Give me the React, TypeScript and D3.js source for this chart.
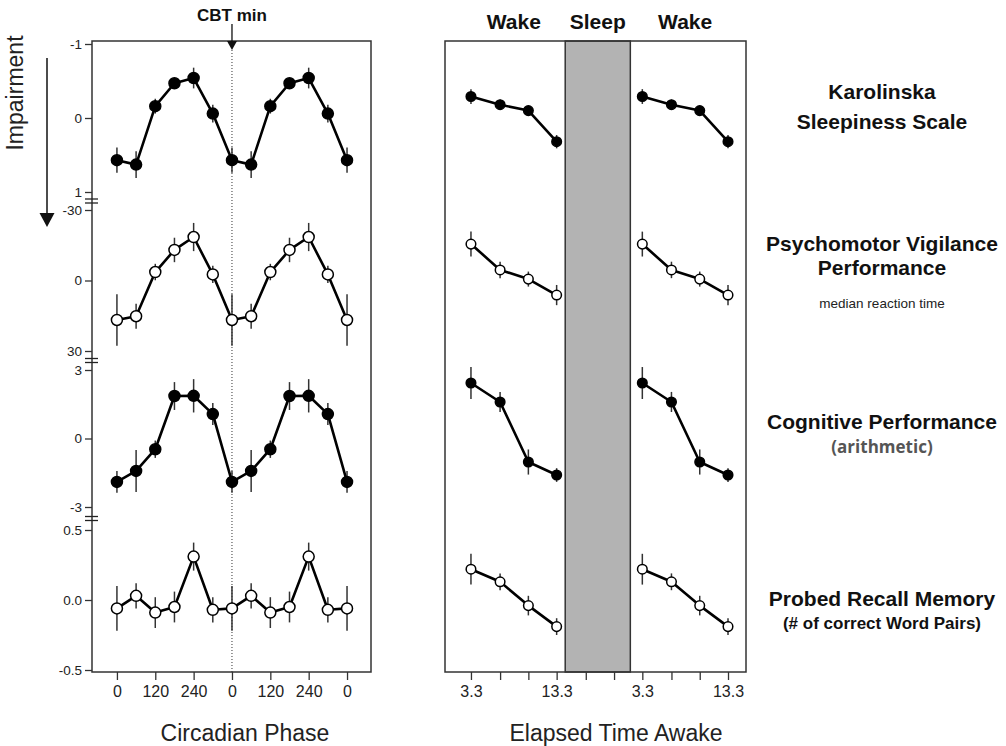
import * as d3 from 'd3';
import { useRef, useEffect } from 'react';

// RENDERING SETUP
const W = 1006;
const H = 746;
const FONT = '"Liberation Sans", Arial, sans-serif';
const FRAME = { TOP: 41, BOTTOM: 672 };
const LEFT_PANEL = { X0: 92, X1: 371 };
const RIGHT_PANEL = { X0: 445, X1: 746 };
const INK = '#222';

// circadian phase (deg), two cycles
const PHASE = [0, 60, 120, 180, 240, 300, 360, 420, 480, 540, 600, 660, 720];
const PHASE_TICKS = [0, 120, 240, 360, 480, 600, 720];
const PHASE_DOMAIN = [-78, 795];
const CBT_MIN = 360;

// elapsed time awake (h); second wake episode shifted by 20 h
const WAKE_HOURS = [3.3, 6.7, 10, 13.3];
const WAKE_OFFSETS = [0, 20];
const ELAPSED_TICKS = [3.3, 6.7, 10, 13.3, 16.7, 20, 23.3, 26.7, 30, 33.3];
const ELAPSED_LABELS = ['3.3', '', '', '13.3', '', '', '3.3', '', '', '13.3'];
const ELAPSED_DOMAIN = [0.27, 35.4];
const SLEEP_BAND = [14.3, 21.9];
const HEADERS = [
  { label: 'Wake', t: 8.3 },
  { label: 'Sleep', t: 18.1 },
  { label: 'Wake', t: 28.3 },
];

// Karolinska Sleepiness Scale
const KSS_CIRC = [0.57, 0.63, -0.16, -0.47, -0.54, -0.06, 0.57, 0.63, -0.16, -0.47, -0.54, -0.06, 0.57];
const KSS_CIRC_ERR = [0.17, 0.18, 0.1, 0.07, 0.14, 0.12, 0.17, 0.18, 0.1, 0.07, 0.14, 0.12, 0.17];
const KSS_WAKE = [-0.29, -0.18, -0.1, 0.32];
const KSS_WAKE_ERR = [0.1, 0.07, 0.05, 0.09];

// Psychomotor vigilance (median RT)
const PVT_CIRC = [16.8, 15.2, -3.6, -13, -18.5, -2.6, 16.8, 15.2, -3.6, -13, -18.5, -2.6, 16.8];
const PVT_CIRC_ERR = [11, 5.3, 3.5, 5.2, 6, 3.7, 11, 5.3, 3.5, 5.2, 6, 3.7, 11];
const PVT_WAKE = [-15.5, -4.5, -0.6, 6.2];
const PVT_WAKE_ERR = [5.3, 3.5, 3.2, 4.3];

// Cognitive performance (arithmetic)
const COG_CIRC = [-1.9, -1.42, -0.47, 1.86, 1.87, 1.07, -1.9, -1.42, -0.47, 1.86, 1.87, 1.07, -1.9];
const COG_CIRC_ERR = [0.48, 0.92, 0.38, 0.61, 0.73, 0.48, 0.48, 0.92, 0.38, 0.61, 0.73, 0.48, 0.48];
const COG_WAKE = [2.43, 1.6, -1.03, -1.6];
const COG_WAKE_ERR = [0.7, 0.44, 0.55, 0.3];

// Probed recall memory
const REC_CIRC = [-0.06, 0.03, -0.09, -0.05, 0.31, -0.07, -0.06, 0.03, -0.09, -0.05, 0.31, -0.07, -0.06];
const REC_CIRC_ERR = [0.16, 0.09, 0.11, 0.11, 0.1, 0.09, 0.16, 0.09, 0.11, 0.11, 0.1, 0.09, 0.16];
const REC_WAKE = [0.22, 0.13, -0.04, -0.19];
const REC_WAKE_ERR = [0.11, 0.06, 0.07, 0.06];

const ROWS = [
  {
    domain: [-1, 1], range: [44, 192], ticks: [-1, 0, 1], fmt: (d: number) => String(d),
    circ: KSS_CIRC, circErr: KSS_CIRC_ERR, wake: KSS_WAKE, wakeErr: KSS_WAKE_ERR, filled: true,
    title: ['Karolinska', 'Sleepiness Scale'], titleY: [92, 122], sub: null,
  },
  {
    domain: [-30, 30], range: [210, 351], ticks: [-30, 0, 30], fmt: (d: number) => String(d),
    circ: PVT_CIRC, circErr: PVT_CIRC_ERR, wake: PVT_WAKE, wakeErr: PVT_WAKE_ERR, filled: false,
    title: ['Psychomotor Vigilance', 'Performance'], titleY: [244, 268],
    sub: { text: 'median reaction time', y: 303, size: 13.5, weight: 'normal', font: FONT, color: INK },
  },
  {
    domain: [3, -3], range: [370, 507], ticks: [3, 0, -3], fmt: (d: number) => String(d),
    circ: COG_CIRC, circErr: COG_CIRC_ERR, wake: COG_WAKE, wakeErr: COG_WAKE_ERR, filled: true,
    title: ['Cognitive Performance'], titleY: [422],
    sub: { text: '(arithmetic)', y: 447, size: 17, weight: 'bold', font: '"Open Sans", sans-serif', color: '#555' },
  },
  {
    domain: [0.5, -0.5], range: [530, 670], ticks: [0.5, 0, -0.5], fmt: (d: number) => d.toFixed(1),
    circ: REC_CIRC, circErr: REC_CIRC_ERR, wake: REC_WAKE, wakeErr: REC_WAKE_ERR, filled: false,
    title: ['Probed Recall Memory'], titleY: [599],
    sub: { text: '(# of correct Word Pairs)', y: 623, size: 17, weight: 'bold', font: FONT, color: '#111' },
  },
];

const drawSeries = (g, xs: number[], ys: number[], errs: number[], x, y, filled: boolean, r: number) => {
  const pts = xs.map((xv, i) => ({ x: xv, y: ys[i], e: errs[i] }));
  g.append('g')
    .selectAll('line')
    .data(pts)
    .join('line')
    .attr('x1', (d) => x(d.x))
    .attr('x2', (d) => x(d.x))
    .attr('y1', (d) => y(d.y - d.e))
    .attr('y2', (d) => y(d.y + d.e))
    .attr('stroke', '#333')
    .attr('stroke-width', 1.5);
  g.append('path')
    .datum(pts)
    .attr('fill', 'none')
    .attr('stroke', '#000')
    .attr('stroke-width', 2.6)
    .attr('stroke-linejoin', 'round')
    .attr('d', d3.line<any>().x((d) => x(d.x)).y((d) => y(d.y)));
  g.append('g')
    .selectAll('circle')
    .data(pts)
    .join('circle')
    .attr('cx', (d) => x(d.x))
    .attr('cy', (d) => y(d.y))
    .attr('r', r)
    .attr('fill', filled ? '#000' : '#fff')
    .attr('stroke', '#000')
    .attr('stroke-width', 1.5);
};

const styleAxis = (ax, size: number) => {
  ax.select('.domain').remove();
  ax.selectAll('.tick line').attr('stroke', '#333').attr('stroke-width', 1.3);
  ax.selectAll('.tick text').attr('fill', INK).style('font-family', FONT).style('font-size', `${size}px`);
};

const App = () => {
  const svgRef = useRef<SVGSVGElement>(null);

  useEffect(() => {
    const svg = d3.select(svgRef.current);
    svg.selectAll('*').remove();

    const xPhase = d3.scaleLinear().domain(PHASE_DOMAIN).range([LEFT_PANEL.X0, LEFT_PANEL.X1]);
    const xWake = d3.scaleLinear().domain(ELAPSED_DOMAIN).range([RIGHT_PANEL.X0, RIGHT_PANEL.X1]);

    // sleep band
    svg.append('rect')
      .attr('x', xWake(SLEEP_BAND[0]))
      .attr('y', FRAME.TOP)
      .attr('width', xWake(SLEEP_BAND[1]) - xWake(SLEEP_BAND[0]))
      .attr('height', FRAME.BOTTOM - FRAME.TOP)
      .attr('fill', '#b3b3b3')
      .attr('stroke', '#333')
      .attr('stroke-width', 1.5);

    // CBT min dotted line
    svg.append('line')
      .attr('x1', xPhase(CBT_MIN)).attr('x2', xPhase(CBT_MIN))
      .attr('y1', FRAME.TOP).attr('y2', FRAME.BOTTOM)
      .attr('stroke', '#333').attr('stroke-width', 1).attr('stroke-dasharray', '1,2');

    // frames
    [LEFT_PANEL, RIGHT_PANEL].forEach((p) => {
      svg.append('rect')
        .attr('x', p.X0).attr('y', FRAME.TOP)
        .attr('width', p.X1 - p.X0).attr('height', FRAME.BOTTOM - FRAME.TOP)
        .attr('fill', 'none').attr('stroke', '#333').attr('stroke-width', 1.5);
    });

    ROWS.forEach((row, i) => {
      const y = d3.scaleLinear().domain(row.domain).range(row.range);
      const ax = svg.append('g')
        .attr('transform', `translate(${LEFT_PANEL.X0},0)`)
        .call(d3.axisLeft(y).tickValues(row.ticks).tickFormat(row.fmt).tickSize(7).tickPadding(3));
      styleAxis(ax, 13.5);

      // axis break marks between rows
      if (i < ROWS.length - 1) {
        const mid = (row.range[1] + ROWS[i + 1].range[0]) / 2;
        [-2, 2].forEach((o) => {
          svg.append('line')
            .attr('x1', LEFT_PANEL.X0 - 7).attr('x2', LEFT_PANEL.X0 + 6)
            .attr('y1', mid + o).attr('y2', mid + o)
            .attr('stroke', '#222').attr('stroke-width', 1.3);
        });
      }

      drawSeries(svg.append('g'), PHASE, row.circ, row.circErr, xPhase, y, row.filled, 5.5);
      WAKE_OFFSETS.forEach((off) => {
        drawSeries(svg.append('g'), WAKE_HOURS.map((h) => h + off), row.wake, row.wakeErr, xWake, y, row.filled, 4.8);
      });

      row.title.forEach((t, k) => {
        svg.append('text')
          .attr('x', 882).attr('y', row.titleY[k]).attr('dy', '0.35em')
          .attr('text-anchor', 'middle')
          .style('font-family', FONT).style('font-size', '21px').style('font-weight', 'bold')
          .attr('fill', '#111')
          .text(t);
      });
      if (row.sub) {
        svg.append('text')
          .attr('x', 882).attr('y', row.sub.y).attr('dy', '0.35em')
          .attr('text-anchor', 'middle')
          .style('font-family', row.sub.font).style('font-size', `${row.sub.size}px`)
          .style('font-weight', row.sub.weight)
          .attr('fill', row.sub.color)
          .text(row.sub.text);
      }
    });

    // x axes
    const axPhase = svg.append('g')
      .attr('transform', `translate(0,${FRAME.BOTTOM})`)
      .call(d3.axisBottom(xPhase).tickValues(PHASE_TICKS).tickFormat((d) => String(+d % 360)).tickSize(8).tickPadding(6));
    styleAxis(axPhase, 16);
    const axWake = svg.append('g')
      .attr('transform', `translate(0,${FRAME.BOTTOM})`)
      .call(d3.axisBottom(xWake).tickValues(ELAPSED_TICKS).tickFormat((d, i) => ELAPSED_LABELS[i]).tickSize(8).tickPadding(6));
    styleAxis(axWake, 16);

    // titles
    svg.append('text')
      .attr('x', 245).attr('y', 733).attr('dy', '0.35em').attr('text-anchor', 'middle')
      .style('font-family', FONT).style('font-size', '23px').attr('fill', INK)
      .text('Circadian Phase');
    svg.append('text')
      .attr('x', 616).attr('y', 733).attr('dy', '0.35em').attr('text-anchor', 'middle')
      .style('font-family', FONT).style('font-size', '23px').attr('fill', INK)
      .text('Elapsed Time Awake');

    HEADERS.forEach((h) => {
      svg.append('text')
        .attr('x', xWake(h.t)).attr('y', 22).attr('dy', '0.35em').attr('text-anchor', 'middle')
        .style('font-family', FONT).style('font-size', '21px').style('font-weight', 'bold')
        .attr('fill', '#111')
        .text(h.label);
    });

    // CBT min label + arrow
    const cx = xPhase(CBT_MIN);
    svg.append('text')
      .attr('x', cx).attr('y', 15).attr('dy', '0.35em').attr('text-anchor', 'middle')
      .style('font-family', FONT).style('font-size', '17px').style('font-weight', 'bold')
      .attr('fill', '#111')
      .text('CBT min');
    svg.append('line')
      .attr('x1', cx).attr('x2', cx).attr('y1', 24).attr('y2', 42)
      .attr('stroke', '#111').attr('stroke-width', 1.3);
    svg.append('path')
      .attr('d', `M${cx - 5},41 L${cx + 5},41 L${cx},50 Z`)
      .attr('fill', '#111');

    // Impairment label + arrow
    svg.append('text')
      .attr('transform', 'translate(15,93) rotate(-90)')
      .attr('dy', '0.35em').attr('text-anchor', 'middle')
      .style('font-family', FONT).style('font-size', '23px')
      .attr('fill', INK)
      .text('Impairment');
    svg.append('line')
      .attr('x1', 47).attr('x2', 47).attr('y1', 58).attr('y2', 214)
      .attr('stroke', '#111').attr('stroke-width', 1.5);
    svg.append('path')
      .attr('d', 'M39.5,213 L54.5,213 L47,227 Z')
      .attr('fill', '#111');
  }, []);

  return (
    <svg
      ref={svgRef}
      width={W}
      height={H}
      style={{ position: 'absolute', left: 0, top: 0, background: '#fff' }}
    />
  );
};

export default App;
